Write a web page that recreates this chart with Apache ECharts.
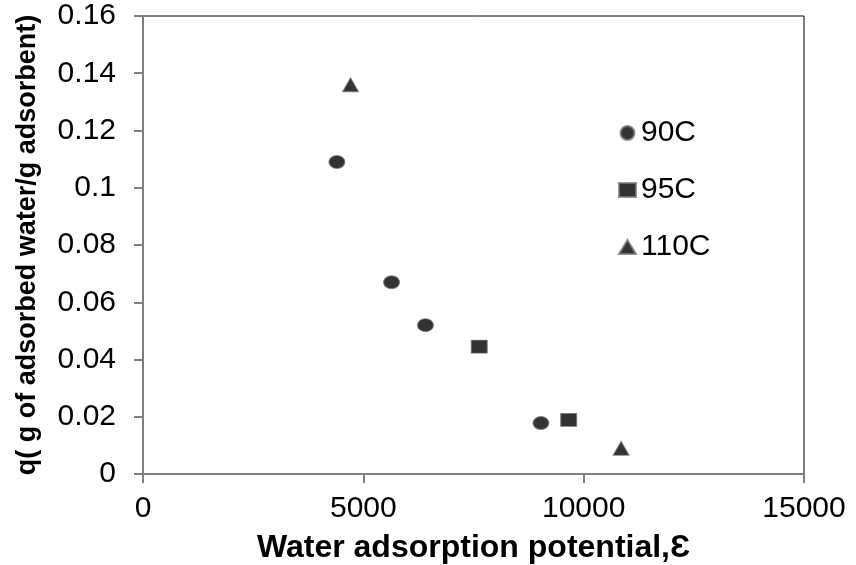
<!DOCTYPE html>
<html>
<head>
<meta charset="utf-8">
<script src="https://cdn.jsdelivr.net/npm/echarts@6/dist/echarts.min.js"></script>
<style>
html,body{margin:0;padding:0;background:#fff;}
#chart{width:856px;height:565px;}
</style>
</head>
<body>
<div id="chart"></div>
<script>
// Data
var s90x = [4400, 5640, 6410, 9030];
var s90y = [0.109, 0.067, 0.052, 0.0178];
var s95x = [7630, 9660];
var s95y = [0.0445, 0.0189];
var s110x = [4710, 10850];
var s110y = [0.136, 0.009];
var seriesNames = ['90C', '95C', '110C'];
var xTicks = [0, 5000, 10000, 15000];
var yTicks = [0, 0.02, 0.04, 0.06, 0.08, 0.1, 0.12, 0.14, 0.16];

function pairs(xs, ys) { return xs.map(function (x, i) { return [x, ys[i]]; }); }

var chart = echarts.init(document.getElementById('chart'));
var labelFont = 'Liberation Sans';
var markerStyle = { color: '#000', borderColor: '#7a7a7a', borderWidth: 1 };

chart.setOption({
  animation: false,
  backgroundColor: '#fff',
  grid: { left: 143, right: 52, top: 16, bottom: 91, show: true, borderColor: '#000', borderWidth: 1,
          containLabel: false, outerBoundsMode: 'none' },
  legend: {
    orient: 'vertical', left: 613, top: 113, itemGap: 27,
    itemWidth: 17, itemHeight: 14,
    textStyle: { fontFamily: labelFont, fontSize: 30, color: '#000' },
    data: seriesNames
  },
  xAxis: {
    type: 'value',
    min: xTicks[0], max: xTicks[xTicks.length - 1], interval: xTicks[1] - xTicks[0],
    splitLine: { show: false },
    axisLine: { lineStyle: { color: '#808080', width: 2 } },
    axisTick: { show: true, inside: false, length: 9, lineStyle: { color: '#808080', width: 2 } },
    axisLabel: { fontFamily: labelFont, fontSize: 30, color: '#000', margin: 20, formatter: function (v) { return String(v); } },
    name: 'Water adsorption potential,\u0190',
    nameLocation: 'middle', nameGap: 58,
    nameTextStyle: { fontFamily: 'Liberation Sans', fontWeight: 'bold', fontSize: 32, color: '#000' }
  },
  yAxis: {
    type: 'value',
    min: yTicks[0], max: yTicks[yTicks.length - 1], interval: yTicks[1] - yTicks[0],
    splitLine: { show: false },
    axisLine: { lineStyle: { color: '#808080', width: 2 } },
    axisTick: { show: true, inside: false, length: 9, lineStyle: { color: '#808080', width: 2 } },
    axisLabel: { fontFamily: labelFont, fontSize: 30, color: '#000', margin: 27,
      formatter: function (v) { return String(parseFloat(v.toFixed(2))); } },
    name: 'q( g of adsorbed water/g adsorbent)',
    nameLocation: 'middle', nameGap: 102,
    nameTextStyle: { fontFamily: 'Liberation Sans', fontWeight: 'bold', fontSize: 27, color: '#000' }
  },
  series: [
    { name: seriesNames[0], type: 'scatter', symbol: 'circle', symbolSize: [16, 13], itemStyle: markerStyle, data: pairs(s90x, s90y) },
    { name: seriesNames[1], type: 'scatter', symbol: 'rect', symbolSize: [16, 13], itemStyle: markerStyle, data: pairs(s95x, s95y) },
    { name: seriesNames[2], type: 'scatter', symbol: 'triangle', symbolSize: [16, 14], itemStyle: markerStyle, data: pairs(s110x, s110y) }
  ]
});
</script>
</body>
</html>
